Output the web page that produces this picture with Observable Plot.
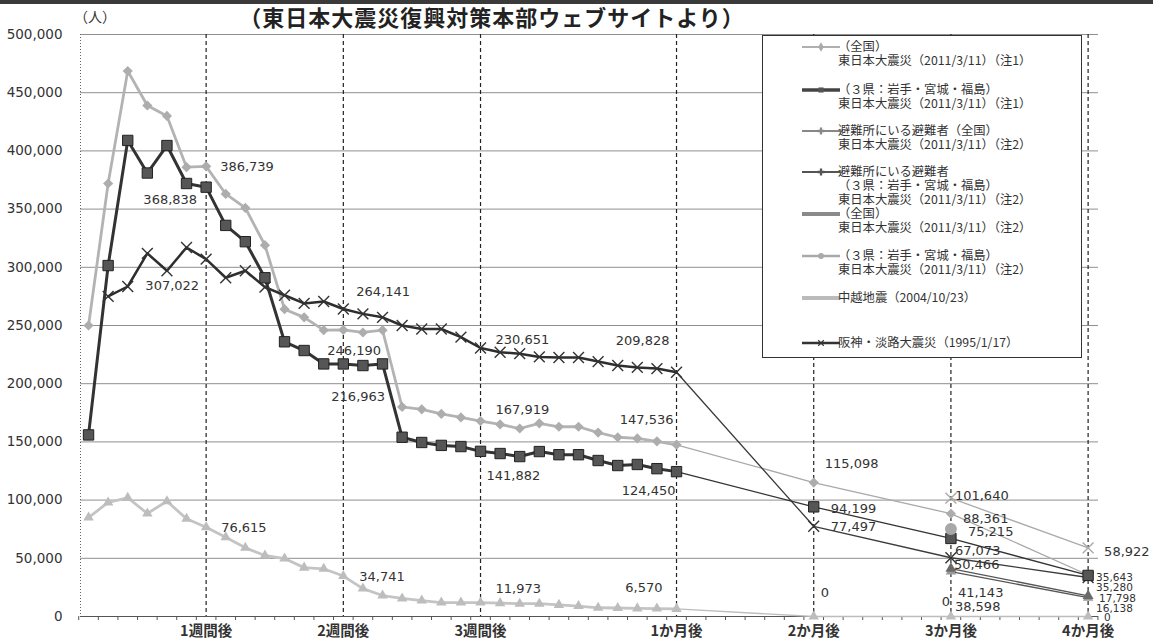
<!DOCTYPE html>
<html><head><meta charset="utf-8">
<script src="https://cdn.jsdelivr.net/npm/d3@7"></script>
<script src="https://cdn.jsdelivr.net/npm/@observablehq/plot@0.6"></script>
<style>
body{margin:0;background:#fff;}
#wrap{position:relative;width:1153px;height:640px;overflow:hidden;background:#fff;}
#topbar{position:absolute;left:0;top:0;width:1153px;height:4px;background:#3a3a3a;}
#title{position:absolute;left:0;width:984px;top:6px;text-align:center;font:bold 22px "Noto Sans CJK JP";letter-spacing:1px;color:#222;line-height:20px;white-space:nowrap;}
#unit{position:absolute;left:74px;top:6px;font:14px "Noto Sans CJK JP";color:#333;}
#legend{position:absolute;left:762px;top:35px;width:320px;height:323px;border:1.5px solid #333;background:#fff;box-sizing:border-box;}
.lt{position:absolute;font:12.3px "Noto Sans CJK JP";color:#333;white-space:nowrap;line-height:13.5px;}
.ls{position:absolute;}
#chart{position:absolute;left:0;top:0;}
</style></head>
<body>
<div id="wrap">
  <div id="chart"></div>
  <div id="topbar"></div>
  <div id="title"></div>
  <div id="unit"></div>
  <div id="legend"></div>
</div>
<script>
// ---------- data ----------
const titleText = "（東日本大震災復興対策本部ウェブサイトより）";
const unitText = "（人）";
const days = ["3/12","3/13","3/14","3/15","3/16","3/17","3/18","3/19","3/20","3/21","3/22","3/23","3/24","3/25","3/26","3/27","3/28","3/29","3/30","3/31","4/1","4/2","4/3","4/4","4/5","4/6","4/7","4/8","4/9","4/10","4/11"];
const months = ["2か月後","3か月後","4か月後"];
const tickLabels = ["1週間後","2週間後","3週間後","1か月後","2か月後","3か月後","4か月後"];
const tickSlots = [6,13,20,30,31,32,33];
const yTicks = [0,50000,100000,150000,200000,250000,300000,350000,400000,450000,500000];

// 東日本大震災（全国）注1
const zenkoku1Daily = [250000,372000,468653,439000,430000,386000,386739,363000,351000,319000,264000,257000,246000,246190,244000,246000,180000,178000,174000,171000,167919,165000,161500,166000,163000,163000,158000,154000,153000,150500,147536];
const zenkoku1Monthly = [115098,88361,35643];
// 東日本大震災（3県）注1
const sanken1Daily = [156000,301500,409000,381000,404600,372000,368838,336000,322000,291000,236000,228500,217000,216963,215600,217000,154000,149500,147000,146000,141882,140000,137400,141700,139000,139000,134000,129700,130600,127000,124450];
const sanken1Monthly = [94199,67073,35280];
// 阪神・淡路大震災
const hanshinDaily = [null,275000,283500,312000,297000,317000,307022,291000,297000,283000,276000,269000,270600,264141,260000,257000,250000,247000,247000,240000,230651,227000,225800,223000,222500,222500,219000,215600,214000,213000,209828];
const hanshinMonthly = [77497,50466,33500];
// 中越地震
const chuetsuDaily = [85000,98000,102000,88500,99000,84000,76615,68000,59000,52400,49800,42000,41000,34741,24000,18000,15500,13700,12000,12000,11973,11500,11000,11000,10000,9000,7500,7300,7000,6800,6570];
const chuetsuMonthly = [0,0,0];
// 注2 series (months only)
const shelterAllMonthly = [null,41143,17798];
const shelter3Monthly = [null,38598,16138];
const note2AllMonthly = [null,101640,58922];
const note2ThreeMonthly = [null,75215,null];

const legendNames = [
 ["（全国）","東日本大震災（2011/3/11）（注1）"],
 ["（３県：岩手・宮城・福島）","東日本大震災（2011/3/11）（注1）"],
 ["避難所にいる避難者（全国）","東日本大震災（2011/3/11）（注2）"],
 ["避難所にいる避難者","（３県：岩手・宮城・福島）","東日本大震災（2011/3/11）（注2）"],
 ["（全国）","東日本大震災（2011/3/11）（注2）"],
 ["（３県：岩手・宮城・福島）","東日本大震災（2011/3/11）（注2）"],
 ["中越地震（2004/10/23）"],
 ["阪神・淡路大震災（1995/1/17）"]
];

// ---------- styles ----------
const seriesDefs = [
 {key:"zenkoku1", daily:zenkoku1Daily, monthly:zenkoku1Monthly, stroke:"#b3b3b3", thin:"#a9a9a9", w:2.8, symbol:"diamond2", r:4.6, fill:"#adadad"},
 {key:"chuetsu", daily:chuetsuDaily, monthly:chuetsuMonthly, stroke:"#c4c4c4", thin:"#bdbdbd", w:2.8, symbol:"triangle2", r:5, fill:"#bdbdbd"},
 {key:"hanshin", daily:hanshinDaily, monthly:hanshinMonthly, stroke:"#2e2e2e", thin:"#3c3c3c", w:2.5, symbol:"times", r:5, markStroke:"#333"},
 {key:"sanken1", daily:sanken1Daily, monthly:sanken1Monthly, stroke:"#333", thin:"#333", w:3, symbol:"square2", r:6.6, fill:"#565656", markStroke:"#222"},
 {key:"note2All", daily:[], monthly:note2AllMonthly, thin:"#aaa", symbol:"times", r:5, markStroke:"#aaa"},
 {key:"note2Three", daily:[], monthly:note2ThreeMonthly, thin:"#a5a5a5", symbol:"circle", r:6, fill:"#a8a8a8"},
 {key:"shelter3", daily:[], monthly:shelter3Monthly, thin:"#555", symbol:"triangle2", r:5, fill:"#9a9a9a"},
 {key:"shelterAll", daily:[], monthly:shelterAllMonthly, thin:"#555", symbol:"triangle2", r:5.2, fill:"#6a6a6a"}
];
const legendStyles = [
 {y:47, stroke:"#b0b0b0", w:2, sym:d3.symbolDiamond, fill:"#aaa"},
 {y:90, stroke:"#444", w:3.5, sym:d3.symbolSquare, fill:"#555"},
 {y:131, stroke:"#888", w:2, sym:d3.symbolCross, fill:"#888"},
 {y:172, stroke:"#555", w:2, sym:d3.symbolCross, fill:"#555"},
 {y:214, stroke:"#8a8a8a", w:4, sym:null},
 {y:256, stroke:"#aaa", w:2.5, sym:d3.symbolCircle, fill:"#aaa"},
 {y:298, stroke:"#bbb", w:4, sym:null},
 {y:343, stroke:"#333", w:2.5, sym:d3.symbolTimes, fill:"#333"}
];
// [series, slot, anchor, dx, dy, fontSize]
const labelSpecs = [
 ["zenkoku1",6,"start",14,0],["sanken1",6,"end",-9,13],["hanshin",6,"end",-7,27],
 ["hanshin",13,"start",13,-17],["zenkoku1",13,"start",-16,21],["sanken1",13,"start",-12,33],
 ["hanshin",20,"start",15,-8],["zenkoku1",20,"start",15,-11],["sanken1",20,"start",6,24],["chuetsu",20,"start",15,-14],
 ["hanshin",30,"end",-7,-31],["zenkoku1",30,"end",-3,-25],["sanken1",30,"end",-1,19],["chuetsu",30,"end",-14,-21],
 ["chuetsu",6,"start",15,1],["chuetsu",13,"start",16,1],
 ["zenkoku1",31,"start",11,-19],["sanken1",31,"start",17,2],["hanshin",31,"start",17,1],["chuetsu",31,"start",7,-24],
 ["note2All",32,"start",4,-2],["zenkoku1",32,"start",12,5],["note2Three",32,"start",17,3],["sanken1",32,"start",4,12],
 ["hanshin",32,"start",3,7],["shelterAll",32,"start",7,24],["shelter3",32,"start",4,35],["chuetsu",32,"end",-1,-15],
 ["note2All",33,"start",16,4],["zenkoku1",33,"start",8,2.5,10.5],["sanken1",33,"start",8,12.5,10.5],
 ["shelterAll",33,"start",11,3,10.5],["shelter3",33,"start",8,10.5,10.5],["chuetsu",33,"start",16,1,10.5]
];

// ---------- build ----------
const pos = s => s <= 30 ? s : 30 + 7 * (s - 30);
const rows = {};
for (const s of seriesDefs) {
  const r = [];
  s.daily.forEach((v, i) => { if (v != null) r.push({slot: i, x: pos(i), y: v, cat: days[i]}); });
  s.monthly.forEach((v, k) => { if (v != null) r.push({slot: 31 + k, x: pos(31 + k), y: v, cat: months[k]}); });
  rows[s.key] = r;
}
const fmt = d3.format(",");
const marks = [];
marks.push(Plot.ruleY(yTicks, {stroke: "#8f8f8f", strokeWidth: 1}));
marks.push(Plot.ruleX(tickSlots.map(pos), {stroke: "#222", strokeWidth: 1.2, strokeDasharray: "4,3"}));
marks.push(Plot.ruleX([-0.41], {stroke: "#666", strokeDasharray: "1,2"}));
marks.push(Plot.ruleY([0], {stroke: "#555", strokeWidth: 1.2}));
marks.push(Plot.axisX({ticks: d3.range(-0.5, 52, 1), tickSize: 4, tickFormat: () => "", stroke: "#555", label: null}));
marks.push(Plot.axisY({ticks: yTicks, tickFormat: fmt, tickSize: 0, tickPadding: 18, fontSize: 13.5, fill: "#333", label: null}));
// thin connectors (from 1か月後 onward)
for (const s of seriesDefs) {
  const r = rows[s.key].filter(d => d.slot >= 30);
  if (r.length > 1) marks.push(Plot.line(r, {x: "x", y: "y", stroke: s.thin, strokeWidth: 1.3}));
}
// thick daily lines
for (const s of seriesDefs) {
  const r = rows[s.key].filter(d => d.slot <= 30);
  if (r.length > 1) marks.push(Plot.line(r, {x: "x", y: "y", stroke: s.stroke, strokeWidth: s.w}));
}
// markers
for (const s of seriesDefs) {
  const opts = {x: "x", y: "y", symbol: s.symbol, r: s.r};
  if (s.symbol === "times") { opts.stroke = s.markStroke; opts.strokeWidth = 1.4; opts.fill = "none"; }
  else { opts.fill = s.fill; opts.stroke = s.markStroke || "none"; opts.strokeWidth = 1; }
  marks.push(Plot.dot(rows[s.key], opts));
}
// value labels
for (const [key, slot, anchor, dx, dy, fs] of labelSpecs) {
  const d = rows[key].filter(r => r.slot === slot);
  marks.push(Plot.text(d, {x: "x", y: "y", text: r => fmt(r.y), textAnchor: anchor, dx, dy, fontSize: fs || 13, fill: "#333"}));
}
// x labels
const xLab = tickSlots.map((s, i) => ({x: pos(s), label: tickLabels[i]}));
marks.push(Plot.text(xLab, {x: "x", y: () => 0, text: "label", dy: 15, fontSize: 14.5, fontWeight: "bold", fontFamily: "Noto Sans CJK JP", fill: "#333"}));

const chart = Plot.plot({
  width: 1153, height: 640,
  marginLeft: 80, marginRight: 55, marginTop: 34, marginBottom: 24,
  x: {type: "linear", domain: [-0.41, 51.53], axis: null},
  y: {domain: [0, 500000], axis: null},
  style: {fontFamily: "DejaVu Sans", background: "transparent", color: "#333", overflow: "visible"},
  marks
});
document.getElementById("chart").appendChild(chart);
document.getElementById("title").textContent = titleText;
document.getElementById("unit").textContent = unitText;

// legend
const lg = document.getElementById("legend");
legendNames.forEach((lines, i) => {
  const st = legendStyles[i];
  const top = st.y - 35 - 1.5;
  const svg = d3.create("svg").attr("class", "ls").attr("width", 38).attr("height", 12)
    .style("left", "39px").style("top", (top - 6) + "px");
  svg.append("line").attr("x1", 0).attr("x2", 38).attr("y1", 6).attr("y2", 6).attr("stroke", st.stroke).attr("stroke-width", st.w);
  if (st.sym) svg.append("path").attr("transform", "translate(19,6)")
    .attr("d", d3.symbol(st.sym, st.sym === d3.symbolTimes ? 22 : 26)()).attr("fill", st.sym === d3.symbolTimes ? "none" : st.fill)
    .attr("stroke", st.sym === d3.symbolTimes ? st.fill : "none").attr("stroke-width", 1.2);
  lg.appendChild(svg.node());
  lines.forEach((t, j) => {
    const el = document.createElement("div");
    el.className = "lt";
    el.textContent = t;
    el.style.left = "75px";
    el.style.top = (top - 6.75 + j * 14) + "px";
    lg.appendChild(el);
  });
});
</script>
</body></html>
